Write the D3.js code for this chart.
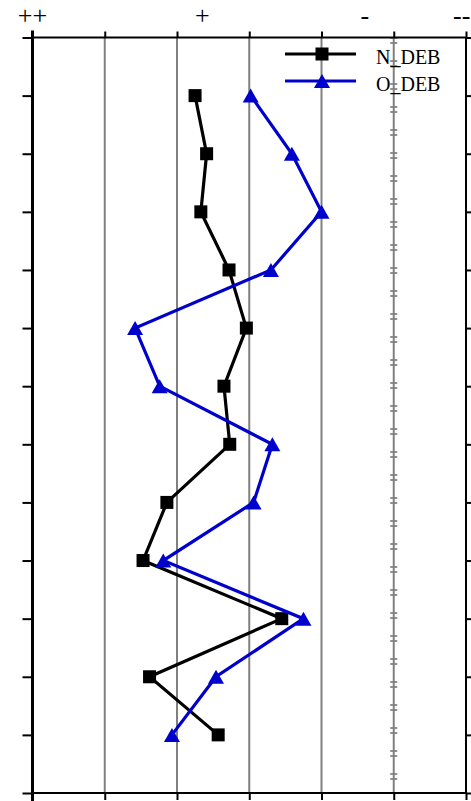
<!DOCTYPE html>
<head>
<meta charset="utf-8">
<style>
body { margin: 0; background: #fff; }
text { font-family: "Liberation Serif", "Times New Roman", serif; }
.grid line { stroke: #808080; stroke-width: 2; }
.frame { fill: none; stroke: #000; stroke-width: 2; }
.tick line { stroke: #000; stroke-width: 2; }
</style>
</head>
<body>
<script src="https://cdn.jsdelivr.net/npm/d3@7"></script>
<script>

// levels 1..12 from top to bottom
var levels = [1, 2, 3, 4, 5, 6, 7, 8, 9, 10, 11, 12];
var nDeb = [2.25, 2.41, 2.33, 2.72, 2.96, 2.65, 2.73, 1.86, 1.53, 3.45, 1.62, 2.57];
var oDeb = [3.02, 3.59, 4.00, 3.30, 1.42, 1.76, 3.32, 3.06, 1.81, 3.75, 2.54, 1.93];
var topLabels = ["++", "+", "-", "--"];
var topLabelPos = [0, 2.35, 4.6, 5.94];
var seriesNames = ["N_DEB", "O_DEB"];

var W = 471, H = 801;
var pLeft = 32.5, pRight = 466, pTop = 37.5, pBottom = 793;

var x = d3.scaleLinear().domain([0, 6]).range([pLeft, pRight]);
var y = d3.scaleLinear().domain([0, 13]).range([pTop, pBottom]);

var svg = d3.select("body").append("svg")
    .attr("width", W)
    .attr("height", H);

// vertical gridlines
svg.append("g")
    .attr("class", "grid")
    .selectAll("line")
    .data([1, 2, 3, 4])
    .enter().append("line")
    .attr("x1", d => x(d)).attr("x2", d => x(d))
    .attr("y1", pTop).attr("y2", pBottom);

// odd little dash marks along the 5th gridline
svg.append("line")
    .attr("x1", x(5)).attr("x2", x(5))
    .attr("y1", pTop).attr("y2", pBottom)
    .style("stroke", "#222")
    .style("stroke-width", 7)
    .style("stroke-dasharray", "1,4,1,17");
svg.append("line")
    .attr("x1", x(5)).attr("x2", x(5))
    .attr("y1", pTop).attr("y2", pBottom)
    .style("stroke", "#808080")
    .style("stroke-width", 2);

// axes: ticks outward on all four sides
svg.append("g")
    .attr("transform", "translate(" + pLeft + ",0)")
    .call(d3.axisLeft(y).tickValues(d3.range(0, 14)).tickSize(10).tickFormat(""))
    .call(g => g.select(".domain").remove());
svg.append("g")
    .attr("transform", "translate(" + pRight + ",0)")
    .call(d3.axisRight(y).tickValues(d3.range(0, 14)).tickSize(6).tickFormat(""))
    .call(g => g.select(".domain").remove());
svg.append("g")
    .attr("transform", "translate(0," + pTop + ")")
    .call(d3.axisTop(x).ticks(6).tickSize(6).tickFormat(""))
    .call(g => g.select(".domain").remove());
svg.append("g")
    .attr("transform", "translate(0," + pBottom + ")")
    .call(d3.axisBottom(x).ticks(6).tickSize(7).tickFormat(""))
    .call(g => g.select(".domain").remove());

svg.append("rect")
    .attr("class", "frame")
    .attr("x", pLeft).attr("y", pTop)
    .attr("width", pRight - pLeft).attr("height", pBottom - pTop);
svg.append("line")
    .attr("x1", pLeft).attr("x2", pLeft)
    .attr("y1", pTop - 7).attr("y2", H)
    .style("stroke", "#000").style("stroke-width", 3);

// top category labels
svg.selectAll(".toplab")
    .data(topLabels)
    .enter().append("text")
    .attr("class", "toplab")
    .attr("x", (d, i) => x(topLabelPos[i]))
    .attr("y", 24)
    .attr("text-anchor", "middle")
    .style("font-size", "26px")
    .text(d => d);

// triangle centred on its bounding box
function tri(cx, cy) {
    var w = 8, h = 7;
    return "M" + cx + "," + (cy - h) + "L" + (cx + w) + "," + (cy + h) +
           "L" + (cx - w) + "," + (cy + h) + "Z";
}

var line = d3.line()
    .x(d => x(d[0]))
    .y(d => y(d[1]));

var nPts = levels.map((l, i) => [nDeb[i], l]);
var oPts = levels.map((l, i) => [oDeb[i], l]);

svg.append("path")
    .attr("d", line(nPts))
    .style("fill", "none")
    .style("stroke", "#000")
    .style("stroke-width", 3.2);

svg.selectAll(".sq")
    .data(nPts)
    .enter().append("rect")
    .attr("x", d => x(d[0]) - 6.5)
    .attr("y", d => y(d[1]) - 6.5)
    .attr("width", 13).attr("height", 13)
    .style("fill", "#000");

svg.append("path")
    .attr("d", line(oPts))
    .style("fill", "none")
    .style("stroke", "#0000cc")
    .style("stroke-width", 3.2);

svg.selectAll(".tri")
    .data(oPts)
    .enter().append("path")
    .attr("d", d => tri(x(d[0]), y(d[1])))
    .style("fill", "#0000cc");

// legend
var lg = svg.append("g");
var legY = [54, 81];
lg.selectAll(".lgline")
    .data(seriesNames)
    .enter().append("line")
    .attr("x1", 285).attr("x2", 356)
    .attr("y1", (d, i) => legY[i]).attr("y2", (d, i) => legY[i])
    .style("stroke", (d, i) => i ? "#0000cc" : "#000")
    .style("stroke-width", 3.2);
lg.append("rect")
    .attr("x", 322 - 6.5).attr("y", legY[0] - 6.5)
    .attr("width", 13).attr("height", 13)
    .style("fill", "#000");
lg.append("path")
    .attr("d", tri(322, legY[1]))
    .style("fill", "#0000cc");
lg.selectAll(".lgtext")
    .data(seriesNames)
    .enter().append("text")
    .attr("x", 376)
    .attr("y", (d, i) => legY[i] + 10)
    .style("font-size", "20px")
    .text(d => d);

</script>
</body>
